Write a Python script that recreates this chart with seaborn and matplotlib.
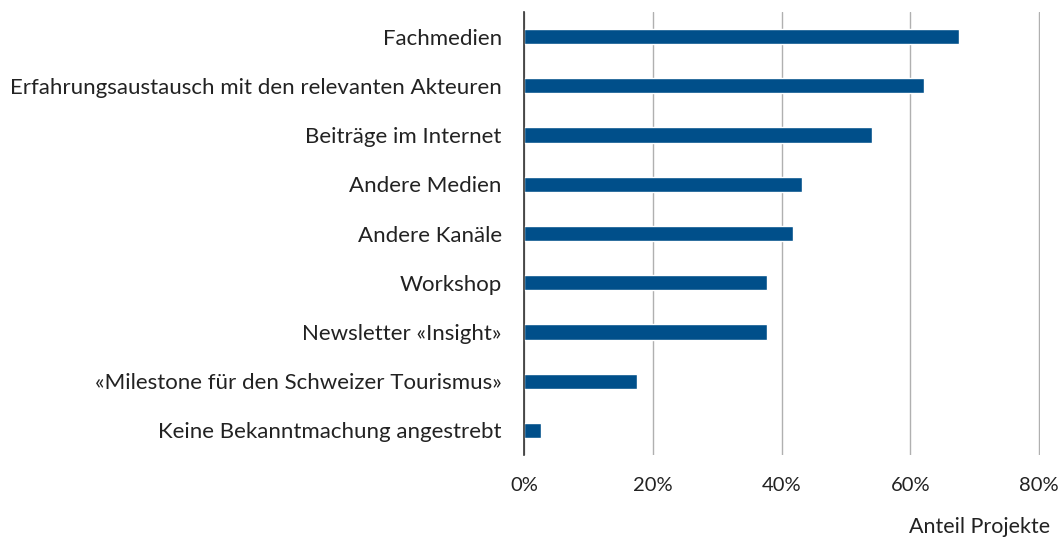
import matplotlib
matplotlib.use("Agg")
import matplotlib.pyplot as plt
import seaborn as sns
import pandas as pd
from matplotlib.ticker import FuncFormatter

categories = [
    "Fachmedien",
    "Erfahrungsaustausch mit den relevanten Akteuren",
    "Beiträge im Internet",
    "Andere Medien",
    "Andere Kanäle",
    "Workshop",
    "Newsletter «Insight»",
    "«Milestone für den Schweizer Tourismus»",
    "Keine Bekanntmachung angestrebt",
]
values = [67.5, 62.1, 54.0, 43.2, 41.8, 37.8, 37.8, 17.5, 2.7]
x_ticks = [0, 20, 40, 60, 80]

sns.set_theme(style="white")
plt.rcParams["font.family"] = ["Lato", "DejaVu Sans"]

df = pd.DataFrame({"Kategorie": categories, "Anteil": values})

fig = plt.figure(figsize=(10.59, 5.4), dpi=100)
ax = fig.add_axes([524 / 1059, 1 - 455 / 540, (1040 - 524) / 1059, (455 - 12) / 540])

sns.barplot(data=df, x="Anteil", y="Kategorie", orient="h", color="#004F8A",
            width=0.31, ax=ax, saturation=1)

ax.set_xlim(0, 80.15)
ax.set_ylim(8.5, -0.5)
ax.set_xticks(x_ticks)
ax.xaxis.set_major_formatter(FuncFormatter(lambda v, p: f"{int(v)}%"))
ax.grid(axis="x", color="#B0B0B0", linewidth=1)
ax.set_axisbelow(True)
for s in ["top", "right", "bottom"]:
    ax.spines[s].set_visible(False)
ax.spines["left"].set_color("#333333")
ax.spines["left"].set_linewidth(1.2)
ax.tick_params(axis="y", length=0, pad=16, labelsize=16, colors="#222222")
ax.tick_params(axis="x", length=0, pad=16, labelsize=14.5, colors="#222222")
ax.set_ylabel("")
ax.set_xlabel("Anteil Projekte", fontsize=15.5, color="#222222")
ax.xaxis.set_label_coords(1.019, -0.162)
ax.xaxis.label.set_horizontalalignment("right")
ax.xaxis.label.set_verticalalignment("center")

fig.savefig("out.png", dpi=100)
